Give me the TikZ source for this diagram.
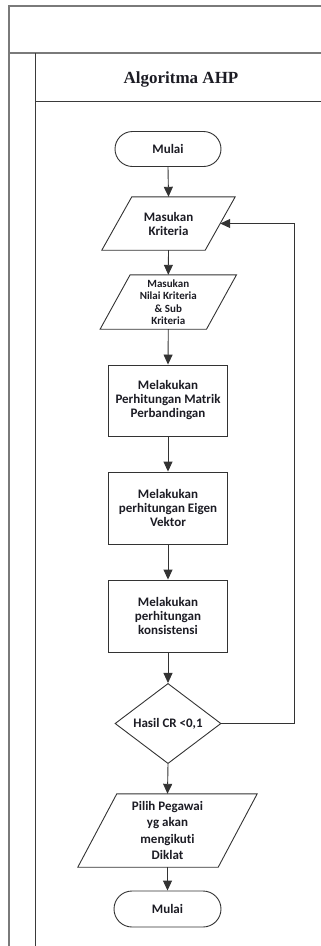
\documentclass[tikz,border=0pt]{standalone}
\usepackage{fontspec}
\setmainfont{Carlito}[Ligatures=NoCommon]
\newfontfamily\titlefont{Liberation Serif}
\usetikzlibrary{shapes.geometric,arrows.meta}
\definecolor{outerline}{HTML}{7A7A7A}
\definecolor{innerline}{HTML}{3A3A3A}
\definecolor{shapecol}{HTML}{333333}
\definecolor{txt}{HTML}{1C1C24}
\tikzset{
  frameouter/.style={draw=outerline, line width=2pt},
  frameinner/.style={draw=innerline, line width=1pt},
  shapeline/.style={draw=shapecol, line width=0.9pt},
  mainfont/.style={font=\fontsize{13}{14}\selectfont\bfseries, text=txt},
  smallfont/.style={font=\fontsize{11}{12.5}\selectfont\bfseries, text=txt},
  term/.style={shapeline, mainfont, rounded corners=17.5pt, minimum width=106pt, minimum height=35pt, inner sep=0pt},
  proc/.style={shapeline, mainfont, align=center, minimum width=119pt, minimum height=71pt, inner sep=0pt},
  iobody/.style={align=center, inner sep=0pt},
  arr/.style={draw=shapecol, line width=0.9pt, -{Triangle[length=10pt,width=9pt]}}
}
\begin{document}
\begin{tikzpicture}[x=1pt,y=-1pt]
\useasboundingbox (0,0) rectangle (321,946);
% frame
\draw[frameouter] (321,6) -- (9,6) -- (9,946);
\draw[frameouter] (9,53) -- (321,53);
\draw[frameinner] (35,53) -- (35,946);
\draw[frameinner] (35,101) -- (321,101);
\node[font=\titlefont\fontsize{17}{20}\selectfont\bfseries, text=txt] (title) at (181,79) {Algoritma AHP};

% nodes
\node[term] (s1) at (168,149) {Mulai};

\node[iobody, mainfont, minimum width=103pt, minimum height=53pt] (p1) at (168.5,223.5) {Masukan\\Kriteria};
\draw[shapeline] ([xshift=15pt]p1.north west) -- ([xshift=15pt]p1.north east) -- ([xshift=-15pt]p1.south east) -- ([xshift=-15pt]p1.south west) -- cycle;

\node[iobody, smallfont, minimum width=106pt, minimum height=54pt] (p2) at (168.3,302) {Masukan\\Nilai Kriteria\\\& Sub\\Kriteria};
\draw[shapeline] ([xshift=15pt]p2.north west) -- ([xshift=15pt]p2.north east) -- ([xshift=-15pt]p2.south east) -- ([xshift=-15pt]p2.south west) -- cycle;

\node[proc] (r1) at (168,400.5) {Melakukan\\Perhitungan Matrik\\Perbandingan};
\node[proc, minimum height=72pt] (r2) at (168,508) {Melakukan\\perhitungan Eigen\\Vektor};
\node[proc, minimum height=72pt] (r3) at (168,616) {Melakukan\\perhitungan\\konsistensi};

\node[shape=diamond, shapeline, mainfont, minimum width=106pt, minimum height=71pt, inner sep=0pt] (cr) at (168,723.5) {Hasil CR <0,1};

\node[iobody, font=\fontsize{13}{16.3}\selectfont\bfseries, text=txt, minimum width=140pt, minimum height=73pt] (p3) at (167.5,830.5) {Pilih Pegawai\\yg akan\\mengikuti\\Diklat};
\draw[shapeline] ([xshift=19.5pt]p3.north west) -- ([xshift=19.5pt]p3.north east) -- ([xshift=-19.5pt]p3.south east) -- ([xshift=-19.5pt]p3.south west) -- cycle;

\node[term, minimum width=107pt, minimum height=36pt, rounded corners=18pt] (s2) at (167.5,909) {Mulai};

% connectors
\coordinate (fbx) at (294,0);
\draw[arr] (s1.south) -- (p1.north);
\draw[arr] (p1.south) -- (p2.north);
\draw[arr] (p2.south) -- (r1.north);
\draw[arr] (r1.south) -- (r2.north);
\draw[arr] (r2.south) -- (r3.north);
\draw[arr] (r3.south) -- (cr.north);
\draw[arr] (cr.south) -- (p3.north);
\draw[arr] (p3.south) -- (s2.north);
\draw[arr] (cr.east) -- (cr.east -| fbx) |- (p1.east);
\end{tikzpicture}
\end{document}
